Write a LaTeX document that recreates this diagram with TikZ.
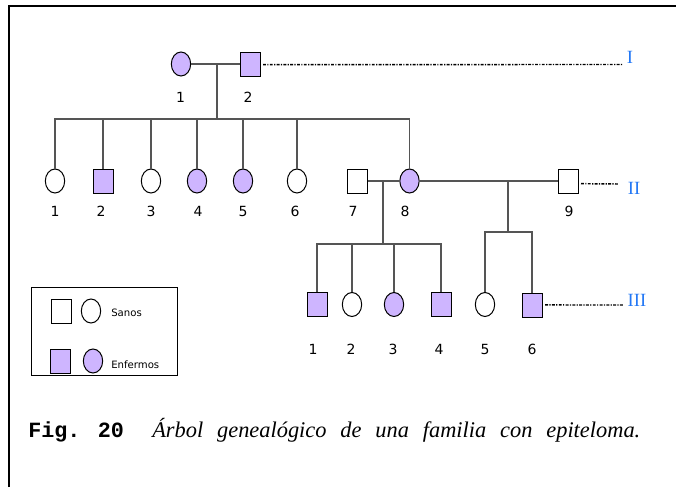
\documentclass[tikz,border=0pt]{standalone}
\usepackage{fontspec}
\setmainfont{Liberation Serif}
\newfontfamily\vfont{DejaVu Sans}
\newfontfamily\cmono{Liberation Mono}
\usetikzlibrary{shapes.geometric}
\definecolor{sick}{RGB}{206,181,255}
\definecolor{gen}{RGB}{35,120,245}
\definecolor{lnk}{RGB}{85,85,85}
\begin{document}
\begin{tikzpicture}[x=0.75pt,y=-0.75pt,
 male/.style={draw=black, line width=0.75pt, rectangle, minimum width=15pt, minimum height=18pt, inner sep=0pt, fill=white},
 female/.style={draw=black, line width=0.75pt, ellipse, minimum width=14.5pt, minimum height=18pt, inner sep=0pt, fill=white},
 aff/.style={fill=sick},
 num/.style={font=\vfont\fontsize{10.5}{12}\selectfont, inner sep=0pt},
 small/.style={font=\vfont\fontsize{7.6}{9}\selectfont, inner sep=0pt, anchor=west},
 link/.style={draw=lnk, line width=0.9pt},
 dd/.style={line width=1.1pt, dash pattern=on 2.2pt off 1pt on 0.9pt off 1pt},
 genlab/.style={text=gen, font=\fontsize{14}{15}\selectfont, inner sep=0pt}]

\useasboundingbox (0,0) rectangle (676,487);
\draw[line width=1.5pt] (9,487) -- (9,6) -- (676,6);

% Generation I
\node[female,aff] (i1) at (181,64) {};
\node[male,aff] (i2) at (250.5,64) {};
\node[num] (li1) at (180.5,97.5) {1};
\node[num] (li2) at (248,97.5) {2};
\coordinate (mi) at (217,64);
\coordinate (si) at (217,119);
\draw[link] (i1.east) -- (i2.west);
\draw[link] (mi) -- (si);
\coordinate (dI) at (623,64.5);
\draw[dd] ([xshift=1.5pt,yshift=-0.4pt]i2.east) -- (dI);
\node[genlab] (gI) at (630,57.5) {I};

% Generation II
\node[female] (ii1) at (55,181) {};
\node[male,aff] (ii2) at (103,181) {};
\node[female] (ii3) at (151,181) {};
\node[female,aff] (ii4) at (197,181) {};
\node[female,aff] (ii5) at (243,181) {};
\node[female] (ii6) at (297,181) {};
\node[male] (ii7) at (357.5,181) {};
\node[female,aff] (ii8) at (409.5,181) {};
\node[male] (ii9) at (568.5,181) {};
\foreach \n/\x in {1/55,2/101,3/151,4/198,5/243,6/295,7/353,8/405,9/569}
  \node[num] (lii\n) at (\x,211) {\n};
\foreach \c in {ii1,ii2,ii3,ii4,ii5,ii6,ii8}
  \draw[link] (si) -| (\c.north);
\draw[link] (ii7.east) -- (ii8.west);
\draw[link] (ii8.east) -- (ii9.west);
\coordinate (dII) at (618,184);
\draw[dd] ([xshift=1.5pt,yshift=-2pt]ii9.east) -- (dII);
\node[genlab] (gII) at (634,188) {II};

% Generation III
\node[male,aff] (iii1) at (317,304) {};
\node[female] (iii2) at (352,304.5) {};
\node[female,aff] (iii3) at (394,304.5) {};
\node[male,aff] (iii4) at (441,304) {};
\node[female] (iii5) at (485,304.5) {};
\node[male,aff,minimum height=18.5pt] (iii6) at (532,305.5) {};
\foreach \n/\x in {1/313,2/351,3/393,4/439,5/485,6/532}
  \node[num] (liii\n) at (\x,349) {\n};
\coordinate (m78) at (383,181);
\coordinate (s78) at (383,244);
\draw[link] (m78) -- (s78);
\foreach \c in {iii1,iii2,iii3,iii4}
  \draw[link] (s78) -| (\c.north);
\coordinate (m89) at (508,181);
\coordinate (s89) at (508,232);
\draw[link] (m89) -- (s89);
\foreach \c in {iii5,iii6}
  \draw[link] (s89) -| (\c.north);
\coordinate (dIII) at (623,305);
\draw[dd] ([xshift=2pt,yshift=0.4pt]iii6.east) -- (dIII);
\node[genlab] (gIII) at (637,300) {III};

% Legend
\node[draw=black, line width=0.75pt, minimum width=109.5pt, minimum height=66pt, inner sep=0pt] (leg) at (104,331) {};
\node[male] (lm) at (61.5,311) {};
\node[female] (lf) at (91,311) {};
\node[small] (lsan) at (111,313) {Sanos};
\node[male,aff] (lma) at (60,361) {};
\node[female,aff] (lfa) at (93,361) {};
\node[small] (lenf) at (111,365) {Enfermos};

% Caption
\node[anchor=base west, inner sep=0pt, font=\cmono\bfseries\fontsize{16.3}{19}\selectfont] (fig) at (28,437) {Fig. 20};
\node[anchor=base west, inner sep=0pt, font=\itshape\fontsize{16.8}{19}\selectfont] (cap) at (152,437) {\makebox[366pt][s]{Árbol genealógico de una familia con epiteloma.}};
\end{tikzpicture}
\end{document}
